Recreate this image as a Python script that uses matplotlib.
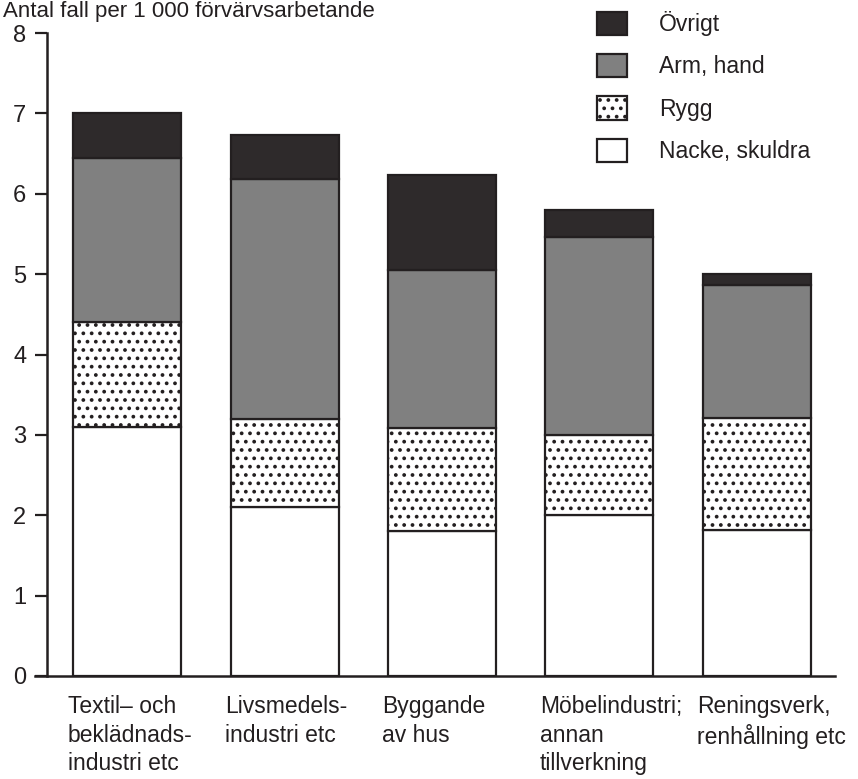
import numpy as np
import matplotlib.pyplot as plt
from matplotlib.patches import Patch

plt.rcParams['font.family'] = ['Liberation Sans', 'DejaVu Sans']
plt.rcParams['hatch.linewidth'] = 1.5

# data
branscher = ["Textil– och\nbeklädnads-\nindustri etc",
             "Livsmedels-\nindustri etc",
             "Byggande\nav hus",
             "Möbelindustri;\nannan\ntillverkning",
             "Reningsverk,\nrenhållning etc"]
nacke = [3.1, 2.1, 1.8, 2.0, 1.82]
rygg = [1.3, 1.1, 1.28, 1.0, 1.39]
arm = [2.05, 2.98, 1.97, 2.46, 1.65]
ovrigt = [0.55, 0.55, 1.18, 0.34, 0.14]
yticks = [0, 1, 2, 3, 4, 5, 6, 7, 8]

ink = '#231f20'
fs = 16.5

fig = plt.figure(figsize=(8.58, 7.79), dpi=100)
ax = fig.add_axes([35/858, 103/779, 800/858, 643/779])

x = np.arange(len(branscher))
w = 0.687
bottom = np.zeros(len(x))
series = [
    (nacke, 'Nacke, skuldra', 'white', ''),
    (rygg, 'Rygg', 'white', '..'),
    (arm, 'Arm, hand', '#808080', ''),
    (ovrigt, 'Övrigt', '#2e2a2b', ''),
]
handles = []
for vals, name, col, hatch in series:
    ax.bar(x, vals, w, bottom=bottom, color=col, edgecolor=ink,
           linewidth=1.6, hatch=hatch)
    bottom += np.array(vals)
    handles.append(Patch(facecolor=col, edgecolor=ink, linewidth=1.6,
                         hatch=hatch, label=name))

ax.set_xlim(-0.588, 4.499)
ax.set_ylim(0, 8)
ax.set_yticks(yticks)
ax.set_xticks([])
for s in ['top', 'right']:
    ax.spines[s].set_visible(False)
ax.spines['left'].set_position(('axes', 12/800))
ax.spines['left'].set_linewidth(1.8)
ax.spines['left'].set_color(ink)
ax.spines['bottom'].set_linewidth(1.8)
ax.spines['bottom'].set_color(ink)
ax.tick_params(axis='y', length=9, width=1.6, color=ink, pad=6,
               labelsize=17, labelcolor=ink)

for xi, lab in zip(x, branscher):
    ax.annotate(lab, xy=(xi - w/2, 0), xycoords=('data', 'axes fraction'),
                xytext=(-4, -14), textcoords='offset points',
                ha='left', va='top', fontsize=fs, color=ink, linespacing=1.3)

ax.legend(handles=handles[::-1], loc='upper left',
          bbox_to_anchor=(597/858, 1 - 11/779), bbox_transform=fig.transFigure,
          frameon=False, fontsize=fs, handlelength=1.3, handleheight=1.2,
          handletextpad=1.4, labelspacing=0.78, borderpad=0, borderaxespad=0,
          labelcolor=ink)

fig.text(0.003, 0.999, 'Antal fall per 1 000 förvärvsarbetande',
         ha='left', va='top', fontsize=16, color=ink)

fig.savefig('out.png', dpi=100, facecolor='white')
